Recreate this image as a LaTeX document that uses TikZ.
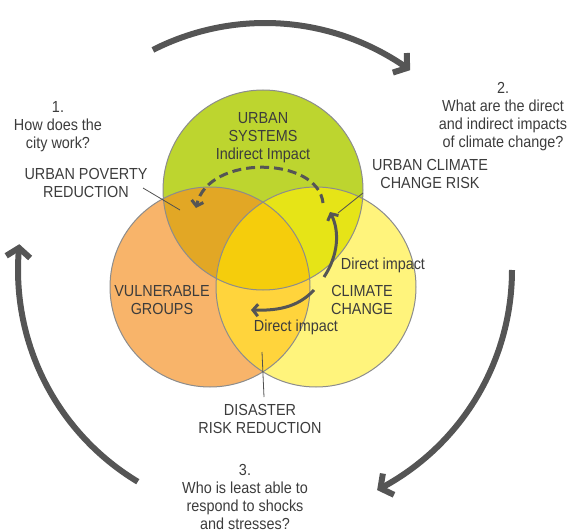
\documentclass[tikz,border=0pt]{standalone}
\usepackage{fontspec}
\setmainfont{Liberation Sans}[FakeStretch=0.9]
\usetikzlibrary{arrows.meta}
\definecolor{cgreen}{HTML}{BDD52F}
\definecolor{corange}{HTML}{F8B46A}
\definecolor{cyellow}{HTML}{FFF47C}
\definecolor{cgo}{HTML}{E2A725}
\definecolor{cgy}{HTML}{E6E417}
\definecolor{coy}{HTML}{FFD43C}
\definecolor{call}{HTML}{F5CD0C}
\definecolor{edge}{HTML}{8C8C8C}
\definecolor{txt}{HTML}{3C3C3C}
\definecolor{arr}{HTML}{555555}
\definecolor{lead}{HTML}{505050}
\tikzset{
  lbl/.style={text=txt, align=center, font=\fontsize{16}{18}\selectfont, inner sep=0pt},
  ring/.style={draw=edge, line width=1pt},
  bigarrow/.style={draw=arr, line width=6pt, -{Straight Barb[length=9pt,width=24pt]}},
  inarrow/.style={draw=arr, line width=3pt, -{Straight Barb[length=5pt,width=12pt]}},
  leader/.style={draw=lead, line width=0.8pt},
}
\begin{document}
\begin{tikzpicture}[x=1pt,y=-1pt]
\useasboundingbox (0,0) rectangle (570,532);
% circles
\coordinate (g) at (263,190);
\coordinate (o) at (210,287);
\coordinate (ye) at (316,287);
\fill[cgreen] (g) circle[radius=100];
\fill[corange] (o) circle[radius=100];
\fill[cyellow] (ye) circle[radius=100];
\begin{scope}\clip (g) circle[radius=100]; \fill[cgo] (o) circle[radius=100];\end{scope}
\begin{scope}\clip (g) circle[radius=100]; \fill[cgy] (ye) circle[radius=100];\end{scope}
\begin{scope}\clip (o) circle[radius=100]; \fill[coy] (ye) circle[radius=100];\end{scope}
\begin{scope}\clip (g) circle[radius=100]; \clip (o) circle[radius=100]; \fill[call] (ye) circle[radius=100];\end{scope}
\draw[ring] (g) circle[radius=100];
\draw[ring] (o) circle[radius=100];
\draw[ring] (ye) circle[radius=100];
% outer cycle arrows
\draw[bigarrow] plot[domain=-117:-54,samples=60,variable=\t] ({265+247*cos(\t)},{270+247*sin(\t)});
\draw[bigarrow] plot[domain=0:63,samples=60,variable=\t] ({265+247*cos(\t)},{270+247*sin(\t)});
\draw[bigarrow] plot[domain=121:186,samples=60,variable=\t] ({265+247*cos(\t)},{270+247*sin(\t)});
% labels
\node[lbl] (q1) at (58,127) {1.\\How does the\\city work?};
\node[lbl] (q2) at (503,117) {2.\\What are the direct\\and indirect impacts\\of climate change?};
\node[lbl] (q3) at (245,497) {3.\\Who is least able to\\respond to shocks\\and stresses?};
\node[lbl] (us) at (263,138) {URBAN\\SYSTEMS\\Indirect Impact};
\node[lbl] (upr) at (86,183) {URBAN POVERTY\\REDUCTION};
\node[lbl] (ucr) at (430,174) {URBAN CLIMATE\\CHANGE RISK};
\node[lbl] (vg) at (162,300) {VULNERABLE\\GROUPS};
\node[lbl] (cc) at (362,300) {CLIMATE\\CHANGE};
\node[lbl] (di1) at (383,265) {Direct impact};
\node[lbl] (di2) at (296,327) {Direct impact};
\node[lbl] (drr) at (260,419) {DISASTER\\RISK REDUCTION};
% leader lines
\coordinate (pv1) at (143,188); \coordinate (pv2) at (180,210);
\coordinate (cr1) at (363,193); \coordinate (cr2) at (338,213);
\coordinate (dr1) at (262,352); \coordinate (dr2) at (264,397);
\draw[leader] (pv1) -- (pv2);
\draw[leader] (cr1) -- (cr2);
\draw[leader] (dr1) -- (dr2);
% inner arrows
\coordinate (da1) at (323,203); \coordinate (da2) at (196,208);
\draw[inarrow, dash pattern=on 9pt off 5pt] (da1) .. controls (318,156) and (208,154) .. (da2);
\coordinate (sa1) at (324,277); \coordinate (sa2) at (330,212);
\draw[inarrow] (sa1) .. controls (338,256) and (340,232) .. (sa2);
\coordinate (sb1) at (314,290); \coordinate (sb2) at (251,310);
\draw[inarrow] (sb1) .. controls (300,305) and (282,311) .. (sb2);
\end{tikzpicture}
\end{document}
